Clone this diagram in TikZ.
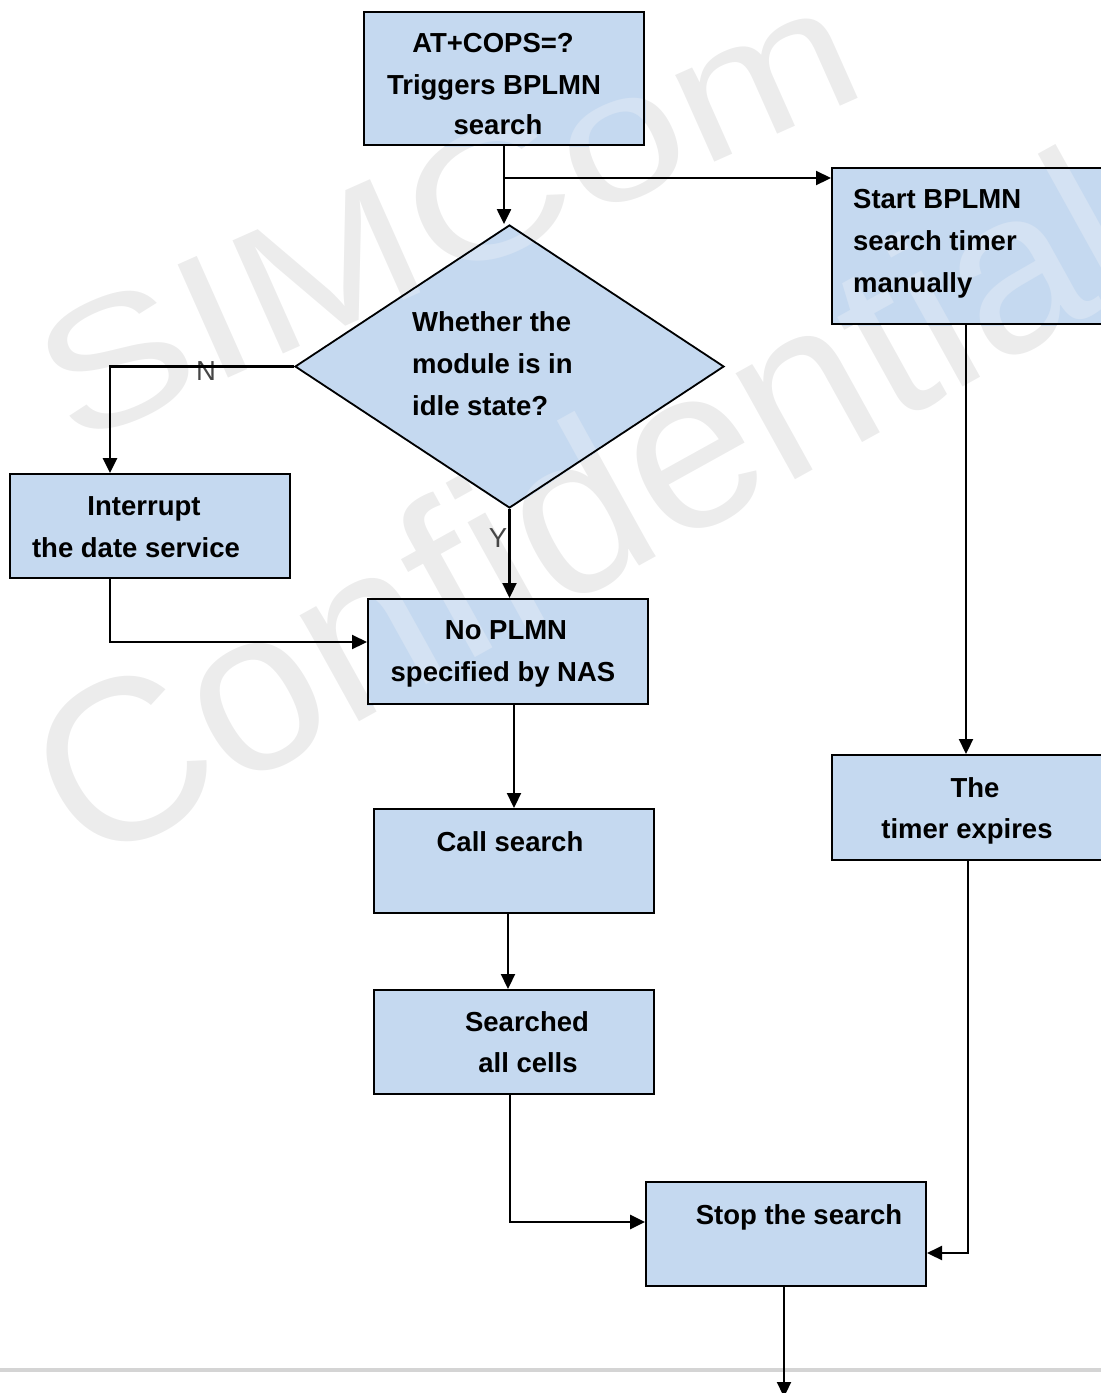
\documentclass[tikz,border=0pt]{standalone}
\usepackage{fontspec}
\setmainfont{Liberation Sans}
\usetikzlibrary{arrows.meta,calc,shapes.geometric,backgrounds}

\definecolor{boxblue}{RGB}{197,217,240}
\definecolor{markgray}{RGB}{236,236,236}
\definecolor{markblue}{RGB}{212,226,243}
\definecolor{labelgray}{RGB}{70,70,70}
\definecolor{rulegray}{RGB}{212,212,212}

% faint company watermark, drawn in the given colour; #2 makes node names unique
\newcommand\drawmark[2]{%
  \node[markstyle,text=#1,rotate=24,xscale=1.25,font=\fontsize{180}{180}\selectfont]
    (simcom#2) at (72,448) {SIMCom};
  \node[markstyle,text=#1,rotate=29,font=\fontsize{230}{230}\selectfont]
    (conf#2) at (88,872) {Confidential};
}

\begin{document}
\begin{tikzpicture}[
  x=1pt, y=-1pt,
  box/.style={draw, line width=2pt, minimum width=280pt, inner sep=0pt},
  decision/.style={draw, diamond, line width=1.8pt, inner sep=0pt,
    minimum width=429pt, minimum height=283pt},
  txt/.style={font=\fontsize{27.5}{33}\selectfont\bfseries, anchor=base, inner sep=0pt},
  txtl/.style={txt, anchor=base west},
  yn/.style={font=\fontsize{27.5}{33}\selectfont, text=labelgray, anchor=base, inner sep=0pt},
  markstyle/.style={anchor=base west, inner sep=0pt},
  arr/.style={-{Triangle[length=15pt,width=14pt]}, line width=2.2pt},
]
\useasboundingbox (0,0) rectangle (1101,1393);
\clip (0,0) rectangle (1101,1393);

% boxes
\node[box, minimum height=133pt] (top)   at (504,78.5)  {};
\node[box, minimum height=156pt] (start) at (972,246)   {};
\node[decision]                  (dia)   at (509.5,366.5) {};
\node[box, minimum height=104pt] (int)   at (150,526)   {};
\node[box, minimum height=105pt] (nop)   at (508,651.5) {};
\node[box, minimum height=104pt] (call)  at (514,861)   {};
\node[box, minimum height=104pt] (sea)   at (514,1042)  {};
\node[box, minimum height=105pt] (timer) at (972,807.5) {};
\node[box, minimum height=104pt] (stop)  at (786,1234)  {};

% box texts
\node[txt] (top1) at (493,52)  {AT+COPS=?};
\node[txt] (top2) at (494,94)  {Triggers BPLMN};
\node[txt] (top3) at (498,134) {search};
\node[txtl] (st1) at (853,208) {Start BPLMN};
\node[txtl] (st2) at (853,250) {search timer};
\node[txtl] (st3) at (853,292) {manually};
\node[txtl] (dia1) at (412,331) {Whether the};
\node[txtl] (dia2) at (412,373) {module is in};
\node[txtl] (dia3) at (412,415) {idle state?};
\node[txt] (int1) at (144,515) {Interrupt};
\node[txt] (int2) at (136,557) {the date service};
\node[txt] (nop1) at (506,639) {No PLMN};
\node[txt] (nop2) at (503,681) {specified by NAS};
\node[txt] (call1) at (510,851) {Call search};
\node[txt] (sea1) at (527,1031) {Searched};
\node[txt] (sea2) at (528,1072) {all cells};
\node[txt] (tim1) at (975,797) {The};
\node[txt] (tim2) at (967,838) {timer expires};
\node[txt] (stop1) at (799,1224) {Stop the search};

% branch labels
\node[yn] (nlab) at (206,380) {N};
\node[yn] (ylab) at (498,547) {Y};

% box fills and watermark behind the outlines
\begin{pgfonlayer}{background}
  \begin{scope}
    \clip (0,0) rectangle (1101,1393);
    \drawmark{markgray}{g}
    \foreach \n in {top,start,int,nop,call,sea,timer,stop}
      \fill[boxblue] (\n.south west) rectangle (\n.north east);
    \fill[boxblue] (dia.north) -- (dia.east) -- (dia.south) -- (dia.west) -- cycle;
    \begin{scope}
      \clip (top.south west) rectangle (top.north east)
            (start.south west) rectangle (start.north east)
            (int.south west) rectangle (int.north east)
            (nop.south west) rectangle (nop.north east)
            (call.south west) rectangle (call.north east)
            (sea.south west) rectangle (sea.north east)
            (timer.south west) rectangle (timer.north east)
            (stop.south west) rectangle (stop.north east)
            (dia.north) -- (dia.east) -- (dia.south) -- (dia.west) -- cycle;
      \drawmark{markblue}{b}
    \end{scope}
  \end{scope}
\end{pgfonlayer}

% page rule near the bottom
\coordinate (ruleL) at (0,1370);
\coordinate (ruleR) at (1101,1370);
\draw[rulegray, line width=4pt] (ruleL) -- (ruleR);

% connectors
\coordinate (br) at (504,178);
\coordinate (out) at (784,1397);
\draw[arr] (top.south) -- (top.south |- dia.north);
\draw[arr] (br) -- (br -| start.west);
\draw[arr, line width=2.8pt] (dia.west) -| ($(int.north)+(-40,0)$);
\draw[arr] (dia.south) -- (dia.south |- nop.north);
\draw[arr] ($(int.south)+(-40,0)$) |- ($(nop.west)+(0,-9.5)$);
\draw[arr] (call.north |- nop.south) -- (call.north);
\draw[arr] ($(call.south)+(-6,0)$) -- ($(sea.north)+(-6,0)$);
\draw[arr, line width=2.8pt] ($(sea.south)+(-4,0)$) |- ($(stop.west)+(0,-12)$);
\draw[arr] ($(start.south)+(-6,0)$) -- ($(timer.north)+(-6,0)$);
\draw[arr] ($(timer.south)+(-4,0)$) |- ($(stop.east)+(0,19)$);
\draw[arr] ($(stop.south)+(-2,0)$) -- (out);
\end{tikzpicture}
\end{document}
